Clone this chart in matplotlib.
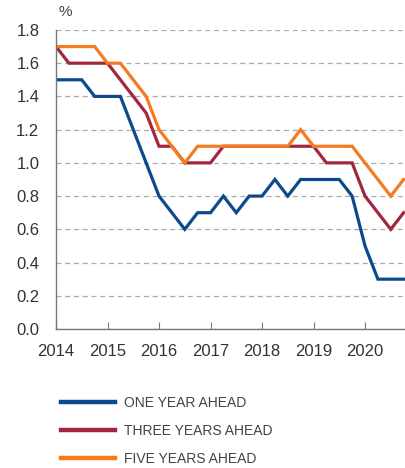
import matplotlib.pyplot as plt
from matplotlib.lines import Line2D

# quarterly observations, 2014Q1 .. 2020Q4
quarters = [2014 + i * 0.25 for i in range(28)]

one_year = [1.5, 1.5, 1.5, 1.4, 1.4, 1.4, 1.2, 1.0,
            0.8, 0.7, 0.6, 0.7, 0.7, 0.8, 0.7, 0.8,
            0.8, 0.9, 0.8, 0.9, 0.9, 0.9, 0.9, 0.8,
            0.5, 0.3, 0.3, 0.3]
three_years = [1.7, 1.6, 1.6, 1.6, 1.6, 1.5, 1.4, 1.3,
               1.1, 1.1, 1.0, 1.0, 1.0, 1.1, 1.1, 1.1,
               1.1, 1.1, 1.1, 1.1, 1.1, 1.0, 1.0, 1.0,
               0.8, 0.7, 0.6, 0.7]
five_years = [1.7, 1.7, 1.7, 1.7, 1.6, 1.6, 1.5, 1.4,
              1.2, 1.1, 1.0, 1.1, 1.1, 1.1, 1.1, 1.1,
              1.1, 1.1, 1.1, 1.2, 1.1, 1.1, 1.1, 1.1,
              1.0, 0.9, 0.8, 0.9]

labels = ['ONE YEAR AHEAD', 'THREE YEARS AHEAD', 'FIVE YEARS AHEAD']
colors = ['#0c4a8c', '#a3263f', '#f47b20']
year_ticks = [2014, 2015, 2016, 2017, 2018, 2019, 2020]
y_ticks = [0.0, 0.2, 0.4, 0.6, 0.8, 1.0, 1.2, 1.4, 1.6, 1.8]

plt.rcParams['font.family'] = ['Liberation Sans', 'DejaVu Sans']

fig = plt.figure(figsize=(4.06, 4.68), dpi=100)
ax = fig.add_axes([0.138, 0.297, 0.86, 0.639])

for series, c in zip([one_year, three_years, five_years], colors):
    ax.plot(quarters, series, color=c, lw=2.3, solid_joinstyle='miter')

ax.set_xlim(2014, 2020.78)
ax.set_ylim(0, 1.8)
ax.set_xticks(year_ticks)
ax.set_xticklabels([str(y) for y in year_ticks])
ax.set_yticks(y_ticks)
ax.set_yticklabels([f'{v:.1f}' for v in y_ticks])
ax.yaxis.grid(True, linestyle=(0, (4, 3)), color='#aaaaaa', lw=0.9)
ax.set_axisbelow(True)

for s in ['top', 'right']:
    ax.spines[s].set_visible(False)
for s in ['left', 'bottom']:
    ax.spines[s].set_color('#777777')
    ax.spines[s].set_linewidth(1.0)

ax.tick_params(axis='y', length=0, pad=12, labelsize=12, labelcolor='#333333')
ax.tick_params(axis='x', direction='in', length=5, color='#777777',
               pad=11, labelsize=12, labelcolor='#333333')

fig.text(0.143, 0.974, '%', fontsize=11, color='#444444', ha='left', va='center')

handles = [Line2D([], [], color=c, lw=3.2) for c in colors]
fig.legend(handles, labels, loc='upper left', bbox_to_anchor=(0.12, 0.18),
           frameon=False, handlelength=3.9, handletextpad=0.6,
           labelspacing=1.0, fontsize=10, labelcolor='#444444')

fig.savefig('out.png', dpi=100)
